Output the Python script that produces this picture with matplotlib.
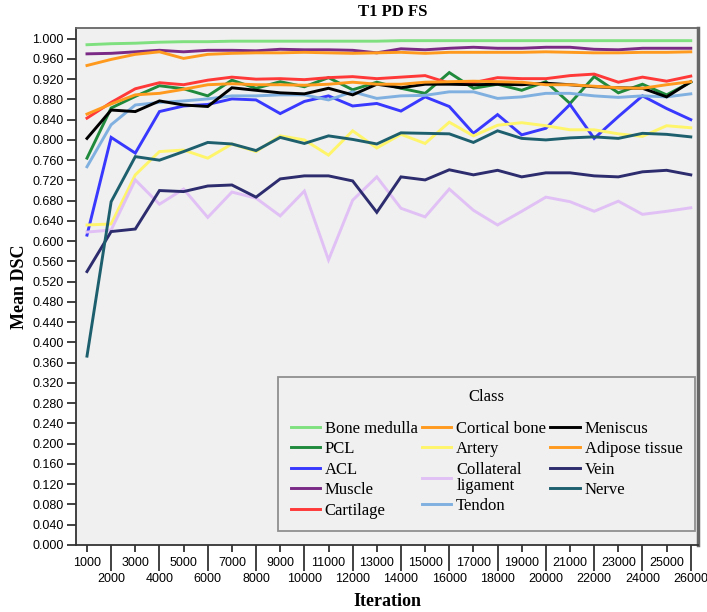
import matplotlib
matplotlib.use("Agg")
import matplotlib.pyplot as plt
import numpy as np

iterations = list(range(1000, 27000, 1000))

bone_medulla = [0.988, 0.990, 0.991, 0.993, 0.994, 0.994, 0.995, 0.995, 0.995, 0.995, 0.995, 0.995, 0.995,
                0.996, 0.996, 0.996, 0.996, 0.996, 0.996, 0.996, 0.996, 0.996, 0.996, 0.996, 0.996, 0.996]
muscle = [0.970, 0.971, 0.974, 0.977, 0.974, 0.977, 0.977, 0.976, 0.979, 0.978, 0.978, 0.977, 0.972,
          0.980, 0.978, 0.981, 0.983, 0.981, 0.981, 0.983, 0.983, 0.979, 0.978, 0.981, 0.981, 0.981]
cortical_bone = [0.947, 0.959, 0.969, 0.974, 0.961, 0.969, 0.971, 0.972, 0.972, 0.973, 0.972, 0.971, 0.972,
                 0.973, 0.971, 0.973, 0.973, 0.973, 0.973, 0.974, 0.973, 0.972, 0.972, 0.973, 0.973, 0.974]
cartilage = [0.843, 0.874, 0.901, 0.913, 0.909, 0.918, 0.924, 0.920, 0.921, 0.919, 0.923, 0.925, 0.921,
             0.924, 0.927, 0.912, 0.913, 0.923, 0.921, 0.921, 0.927, 0.930, 0.914, 0.924, 0.916, 0.926]
adipose_tissue = [0.851, 0.871, 0.889, 0.892, 0.900, 0.909, 0.911, 0.909, 0.909, 0.908, 0.910, 0.914, 0.910,
                  0.910, 0.914, 0.915, 0.916, 0.915, 0.914, 0.909, 0.909, 0.906, 0.903, 0.902, 0.909, 0.915]
pcl = [0.764, 0.863, 0.886, 0.907, 0.901, 0.887, 0.918, 0.902, 0.915, 0.905, 0.923, 0.899, 0.914,
       0.902, 0.892, 0.933, 0.902, 0.910, 0.898, 0.915, 0.872, 0.925, 0.893, 0.910, 0.889, 0.914]
meniscus = [0.803, 0.859, 0.856, 0.877, 0.869, 0.866, 0.903, 0.898, 0.893, 0.891, 0.902, 0.889, 0.910,
            0.903, 0.910, 0.910, 0.909, 0.910, 0.909, 0.912, 0.909, 0.905, 0.903, 0.902, 0.885, 0.915]
tendon = [0.747, 0.830, 0.869, 0.874, 0.877, 0.881, 0.887, 0.887, 0.889, 0.889, 0.879, 0.895, 0.882,
          0.887, 0.888, 0.895, 0.895, 0.882, 0.885, 0.892, 0.892, 0.887, 0.884, 0.887, 0.885, 0.891]
acl = [0.612, 0.805, 0.774, 0.856, 0.867, 0.870, 0.881, 0.879, 0.852, 0.876, 0.887, 0.867, 0.872,
       0.857, 0.885, 0.866, 0.813, 0.850, 0.810, 0.823, 0.870, 0.803, 0.846, 0.887, 0.862, 0.840]
artery = [0.632, 0.634, 0.731, 0.777, 0.780, 0.764, 0.792, 0.777, 0.808, 0.800, 0.770, 0.818, 0.784,
          0.811, 0.793, 0.835, 0.808, 0.829, 0.834, 0.828, 0.820, 0.820, 0.812, 0.807, 0.828, 0.824]
nerve = [0.373, 0.678, 0.767, 0.760, 0.777, 0.795, 0.792, 0.779, 0.805, 0.793, 0.808, 0.801, 0.792,
         0.814, 0.813, 0.812, 0.795, 0.818, 0.803, 0.800, 0.804, 0.806, 0.803, 0.813, 0.811, 0.806]
vein = [0.540, 0.619, 0.624, 0.700, 0.698, 0.709, 0.711, 0.687, 0.723, 0.729, 0.729, 0.719, 0.657,
        0.727, 0.721, 0.741, 0.731, 0.740, 0.727, 0.735, 0.735, 0.729, 0.727, 0.737, 0.740, 0.731]
collateral_ligament = [0.618, 0.622, 0.721, 0.673, 0.703, 0.647, 0.697, 0.685, 0.650, 0.699, 0.563, 0.681, 0.727,
                       0.665, 0.648, 0.703, 0.661, 0.632, 0.659, 0.687, 0.678, 0.659, 0.679, 0.653, 0.659, 0.666]

series = [
    ("Bone medulla", bone_medulla, "#7fe07f"),
    ("PCL", pcl, "#1f8a3c"),
    ("ACL", acl, "#3838ff"),
    ("Muscle", muscle, "#7a2a85"),
    ("Cartilage", cartilage, "#ff3838"),
    ("Cortical bone", cortical_bone, "#ff9a1f"),
    ("Artery", artery, "#fff56a"),
    ("Collateral\nligament", collateral_ligament, "#e0c0f5"),
    ("Tendon", tendon, "#80b0e0"),
    ("Meniscus", meniscus, "#000000"),
    ("Adipose tissue", adipose_tissue, "#ff9a1f"),
    ("Vein", vein, "#2c2c6e"),
    ("Nerve", nerve, "#1e5f6e"),
]

fig = plt.figure(figsize=(7.07, 6.12), dpi=100)
fig.patch.set_facecolor("white")
ax = fig.add_axes([0.1075, 0.1095, 0.8798, 0.8448])
ax.set_facecolor("#f0f0f0")

for name, vals, col in series:
    ax.plot(iterations, vals, color=col, lw=2.1, label=name, solid_joinstyle="miter")

ax.set_xlim(545, 26300)
ax.set_ylim(0, 1.0211)

yt = np.round(np.arange(0, 1.0001, 0.04), 3)
ax.set_yticks(yt)
ax.set_yticklabels([f"{v:.3f}" for v in yt], fontsize=9, family="Liberation Sans")
odd = [x for x in iterations if (x // 1000) % 2 == 1]
even = [x for x in iterations if (x // 1000) % 2 == 0]
ax.set_xticks(odd)
ax.set_xticklabels([str(x) for x in odd], fontsize=9, family="Liberation Sans")
ax.set_xticks(even, minor=True)
ax.set_xticklabels([str(x) for x in even], minor=True, fontsize=9, family="Liberation Sans")
ax.tick_params(axis="y", length=6.5, width=1.3, pad=2.5, color="#333333")
ax.tick_params(axis="x", which="major", length=5, width=1.3, pad=4, color="#333333")
ax.tick_params(axis="x", which="minor", length=19, width=1.3, pad=1, color="#333333")

for s in ax.spines.values():
    s.set_color("#666666")
    s.set_linewidth(1.3)
ax.spines["left"].set_color("#333333")
ax.spines["bottom"].set_color("#333333")
ax.spines["right"].set_linewidth(2.5)

fig.text(0.556, 0.980, "T1 PD FS", ha="center", va="center", fontsize=12,
         fontweight="bold", family="Liberation Serif")
ax.set_ylabel("Mean DSC", fontsize=13, fontweight="bold", family="Liberation Serif", labelpad=3)
ax.set_xlabel("Iteration", fontsize=13, fontweight="bold", family="Liberation Serif", labelpad=6)

leg = ax.legend(loc="lower left", bbox_to_anchor=(0.325, 0.027, 0.67, 0.288), mode="expand",
                ncol=3, title="Class", frameon=True, fancybox=False,
                prop={"family": "Liberation Serif", "size": 12},
                title_fontproperties={"family": "Liberation Serif", "size": 12},
                handlelength=1.75, handletextpad=0.3, labelspacing=0.27, columnspacing=0.5,
                borderaxespad=0, borderpad=0.75)
leg._legend_box.sep = 11
leg.get_frame().set_facecolor("#f0f0f0")
leg.get_frame().set_edgecolor("#777777")
leg.get_frame().set_linewidth(1.3)
for t in leg.get_texts():
    t.set_linespacing(1.0)

fig.savefig("out.png", dpi=100)
